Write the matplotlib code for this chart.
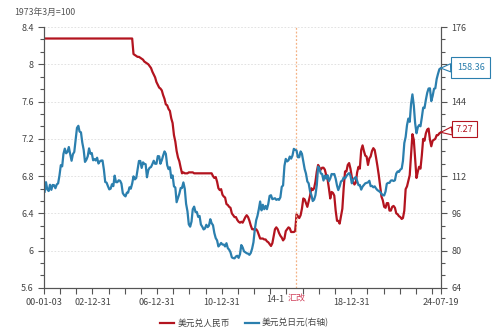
import matplotlib
matplotlib.use("Agg")
import matplotlib.pyplot as plt
from matplotlib.ticker import MultipleLocator, AutoMinorLocator, FuncFormatter
import pandas as pd

plt.rcParams['font.family'] = ['Noto Sans CJK SC', 'DejaVu Sans']

# monthly USD/CNY, Jan 2000 - Jun 2024, then the last print on 2024-07-19
usdcny = [
    8.277, 8.277, 8.277, 8.277, 8.277, 8.277, 8.277, 8.277, 8.277, 8.277, 8.277, 8.277,  # 2000
    8.277, 8.277, 8.277, 8.277, 8.277, 8.277, 8.277, 8.277, 8.277, 8.277, 8.277, 8.277,  # 2001
    8.277, 8.277, 8.277, 8.277, 8.277, 8.277, 8.277, 8.277, 8.277, 8.277, 8.277, 8.277,  # 2002
    8.277, 8.277, 8.277, 8.277, 8.277, 8.277, 8.277, 8.277, 8.277, 8.277, 8.277, 8.277,  # 2003
    8.277, 8.277, 8.277, 8.277, 8.277, 8.277, 8.277, 8.277, 8.277, 8.277, 8.277, 8.277,  # 2004
    8.277, 8.277, 8.277, 8.277, 8.277, 8.277, 8.11, 8.10, 8.09, 8.08, 8.08, 8.07,        # 2005
    8.06, 8.05, 8.03, 8.02, 8.01, 8.00, 7.98, 7.96, 7.92, 7.89, 7.86, 7.81,              # 2006
    7.78, 7.75, 7.74, 7.72, 7.67, 7.63, 7.57, 7.56, 7.52, 7.50, 7.42, 7.37,              # 2007
    7.24, 7.17, 7.07, 7.00, 6.96, 6.89, 6.83, 6.84, 6.83, 6.83, 6.83, 6.84,              # 2008
    6.84, 6.84, 6.84, 6.83, 6.83, 6.83, 6.83, 6.83, 6.83, 6.83, 6.83, 6.83,              # 2009
    6.83, 6.83, 6.83, 6.83, 6.83, 6.80, 6.78, 6.79, 6.74, 6.67, 6.65, 6.66,              # 2010
    6.60, 6.58, 6.57, 6.50, 6.49, 6.47, 6.46, 6.40, 6.38, 6.36, 6.36, 6.33,              # 2011
    6.31, 6.30, 6.31, 6.30, 6.33, 6.36, 6.38, 6.36, 6.32, 6.27, 6.23, 6.23,              # 2012
    6.22, 6.23, 6.21, 6.17, 6.13, 6.13, 6.13, 6.12, 6.12, 6.10, 6.09, 6.07,              # 2013
    6.05, 6.08, 6.15, 6.23, 6.25, 6.23, 6.19, 6.16, 6.14, 6.11, 6.13, 6.21,              # 2014
    6.23, 6.25, 6.24, 6.20, 6.20, 6.20, 6.21, 6.39, 6.37, 6.35, 6.38, 6.45,              # 2015
    6.56, 6.55, 6.51, 6.47, 6.53, 6.59, 6.67, 6.65, 6.67, 6.74, 6.85, 6.92,              # 2016
    6.89, 6.87, 6.89, 6.89, 6.87, 6.81, 6.77, 6.67, 6.56, 6.63, 6.62, 6.59,              # 2017
    6.43, 6.32, 6.32, 6.29, 6.37, 6.45, 6.67, 6.85, 6.85, 6.92, 6.94, 6.88,              # 2018
    6.79, 6.74, 6.71, 6.73, 6.84, 6.90, 6.88, 7.08, 7.13, 7.07, 7.02, 7.01,              # 2019
    6.92, 6.99, 7.01, 7.07, 7.10, 7.08, 7.00, 6.91, 6.81, 6.70, 6.58, 6.54,              # 2020
    6.47, 6.46, 6.51, 6.51, 6.43, 6.43, 6.47, 6.48, 6.46, 6.40, 6.39, 6.37,              # 2021
    6.36, 6.34, 6.35, 6.43, 6.66, 6.69, 6.75, 6.81, 7.03, 7.25, 7.19, 6.98,              # 2022
    6.78, 6.85, 6.90, 6.88, 7.02, 7.20, 7.18, 7.26, 7.30, 7.31, 7.19, 7.12,              # 2023
    7.18, 7.19, 7.20, 7.24, 7.24, 7.26,                                                  # 2024
    7.27,
]

# monthly USD/JPY, same dates
usdjpy = [
    105.3, 109.4, 106.3, 105.6, 108.3, 106.1, 108.2, 108.1, 106.8, 108.4, 108.9, 112.2,  # 2000
    116.7, 116.2, 121.5, 123.8, 121.8, 122.4, 124.5, 121.4, 118.6, 121.4, 122.4, 127.6,  # 2001
    132.7, 133.6, 131.1, 130.8, 126.4, 123.3, 118.1, 119.0, 120.5, 123.9, 121.6, 121.9,  # 2002
    118.8, 119.3, 118.7, 119.9, 117.4, 118.3, 118.7, 118.7, 114.8, 109.5, 109.2, 107.7,  # 2003
    106.3, 106.6, 108.5, 107.7, 112.2, 109.4, 109.4, 110.2, 110.0, 108.8, 104.7, 103.8,  # 2004
    103.3, 104.9, 104.9, 107.2, 106.6, 108.8, 111.9, 110.6, 111.2, 114.8, 118.5, 118.5,  # 2005
    115.5, 117.9, 117.3, 117.1, 111.5, 114.6, 115.6, 115.9, 117.2, 118.6, 117.3, 117.3,  # 2006
    120.6, 120.5, 117.3, 118.8, 120.8, 122.6, 121.6, 116.7, 115.0, 115.8, 111.2, 112.3,  # 2007
    107.6, 107.1, 100.8, 102.6, 104.4, 106.9, 106.9, 109.3, 106.6, 100.1, 96.9, 91.3,    # 2008
    90.3, 92.5, 97.8, 98.9, 96.6, 96.6, 94.5, 94.9, 91.2, 90.3, 89.1, 89.5,              # 2009
    91.1, 90.1, 90.7, 93.5, 91.8, 90.9, 87.6, 85.4, 84.4, 81.8, 82.5, 83.3,              # 2010
    82.6, 82.6, 81.8, 83.2, 81.1, 80.4, 79.3, 77.1, 76.8, 76.7, 77.5, 77.8,              # 2011
    76.9, 78.5, 82.4, 81.4, 79.7, 79.3, 78.9, 78.7, 78.2, 79.0, 80.9, 83.6,              # 2012
    89.2, 93.1, 94.9, 97.8, 101.1, 97.3, 99.7, 97.8, 99.2, 97.8, 100.1, 103.5,           # 2013
    103.8, 102.1, 102.3, 102.5, 101.8, 102.1, 101.8, 102.9, 107.4, 108.0, 116.4, 119.4,  # 2014
    118.3, 118.8, 120.4, 119.5, 120.8, 123.7, 123.3, 123.0, 120.1, 120.1, 122.6, 121.6,  # 2015
    118.2, 115.0, 113.1, 109.7, 108.9, 105.5, 103.9, 101.3, 101.9, 103.8, 108.2, 116.1,  # 2016
    114.9, 113.1, 112.9, 110.1, 112.2, 110.9, 112.4, 109.8, 111.0, 112.9, 112.8, 112.9,  # 2017
    110.9, 107.9, 106.0, 107.6, 109.7, 110.1, 111.4, 111.0, 112.0, 112.8, 113.3, 112.2,  # 2018
    108.9, 110.5, 111.1, 111.6, 110.0, 108.1, 108.2, 106.2, 107.5, 108.2, 108.9, 109.1,  # 2019
    109.3, 110.0, 107.7, 107.8, 107.2, 107.6, 106.7, 106.0, 105.6, 105.2, 104.4, 103.8,  # 2020
    103.7, 105.4, 108.7, 109.1, 109.1, 110.1, 110.2, 109.9, 110.2, 113.1, 114.0, 113.8,  # 2021
    114.8, 115.2, 118.5, 126.2, 128.8, 133.9, 136.7, 135.3, 143.1, 147.1, 142.4, 134.8,  # 2022
    130.4, 133.0, 133.9, 133.4, 137.1, 141.4, 141.2, 144.8, 147.8, 149.6, 149.7, 144.2,  # 2023
    146.4, 149.5, 149.7, 153.7, 155.9, 157.9,                                            # 2024
    158.36,
]

dates = list(pd.date_range('2000-01-01', '2024-06-01', freq='MS') + pd.Timedelta(days=14))
dates.append(pd.Timestamp('2024-07-19'))

tick_dates = [pd.Timestamp('2000-01-03')] + \
    [pd.Timestamp(f'{y}-12-31') for y in range(2000, 2024)] + [pd.Timestamp('2024-07-19')]
tick_labels = {'2000-01-03': '00-01-03', '2002-12-31': '02-12-31', '2006-12-31': '06-12-31',
               '2010-12-31': '10-12-31', '2018-12-31': '18-12-31', '2024-07-19': '24-07-19'}
reform_date = pd.Timestamp('2015-08-11')

red = '#B3141F'
blue = '#2B7FAE'
grey = '#555555'

fig = plt.figure(figsize=(5.01, 3.34), dpi=100)
ax = fig.add_axes([0.088, 0.138, 0.792, 0.781])
ax2 = ax.twinx()

l1, = ax.plot(dates, usdcny, color=red, lw=1.6, label='美元兑人民币')
l2, = ax2.plot(dates, usdjpy, color=blue, lw=1.6, label='美元兑日元(右轴)')

ax.set_xlim(pd.Timestamp('2000-01-03'), pd.Timestamp('2024-07-19'))
ax.set_ylim(5.6, 8.4)
ax2.set_ylim(64, 176)

ax.yaxis.set_major_locator(MultipleLocator(0.4))
ax.yaxis.set_minor_locator(AutoMinorLocator(3))
ax.yaxis.set_major_formatter(FuncFormatter(lambda v, p: f'{v:g}'))
ax2.yaxis.set_major_locator(MultipleLocator(16))
ax2.yaxis.set_minor_locator(AutoMinorLocator(3))
ax2.yaxis.set_major_formatter(FuncFormatter(
    lambda v, p: '' if round(v) in (160, 128) else f'{v:g}'))

ax.set_xticks(tick_dates)
ax.set_xticklabels([tick_labels.get(d.strftime('%Y-%m-%d'), '') for d in tick_dates])

for a in (ax, ax2):
    a.tick_params(axis='both', which='both', direction='out', colors=grey,
                  labelsize=6.5, labelcolor='#444444', width=0.8)
    a.tick_params(which='major', length=4)
    a.tick_params(which='minor', length=3)
    for s in a.spines.values():
        s.set_color(grey)
        s.set_linewidth(0.8)
    a.spines['top'].set_visible(False)

ax.grid(axis='y', which='major', color='#DDDDDD', ls=(0, (2, 2)), lw=0.6)
ax.axvline(reform_date, color='#F4B183', ls=(0, (1.5, 1.5)), lw=0.9)
ax.set_zorder(ax2.get_zorder() - 1)
ax.patch.set_visible(False)

# truncated 14-12-31 label followed by the reform marker
ax.annotate('14-1', xy=(pd.Timestamp('2014-12-31'), 5.6), xytext=(-2, -7),
            textcoords='offset pixels', ha='right', va='top', fontsize=6.5,
            color='#444444', annotation_clip=False)
ax.annotate('汇改', xy=(reform_date, 5.6), xytext=(0, -7), textcoords='offset pixels',
            ha='center', va='top', fontsize=6.5, color='#D0405A', annotation_clip=False)

fig.text(0.028, 0.963, '1973年3月=100', fontsize=6.3, color='#555555', va='center')

# end-value callouts
ax2.annotate(f'{usdjpy[-1]:.2f}', xy=(dates[-1], usdjpy[-1]), xytext=(16, 1),
             textcoords='offset pixels', ha='left', va='center', fontsize=6.5, color=blue,
             annotation_clip=False, zorder=10,
             bbox=dict(boxstyle='square,pad=0.65', fc='white', ec=blue, lw=0.8),
             arrowprops=dict(arrowstyle='wedge,tail_width=0.9', fc='white', ec=blue,
                             lw=0.8, shrinkA=0, shrinkB=0))
ax2.annotate(f'{usdcny[-1]:.2f}', xy=(dates[-1], (usdcny[-1] - 5.6) * 40 + 64),
             xytext=(15, 3), textcoords='offset pixels', ha='left', va='center',
             fontsize=6.5, color=red, annotation_clip=False, zorder=10,
             bbox=dict(boxstyle='square,pad=0.4', fc='white', ec=red, lw=0.8),
             arrowprops=dict(arrowstyle='wedge,tail_width=0.9', fc='white', ec=red,
                             lw=0.8, shrinkA=0, shrinkB=0))

fig.legend(handles=[l1, l2], loc='center', bbox_to_anchor=(0.488, 0.033), ncol=2,
           frameon=False, fontsize=6.3, handlelength=1.6, columnspacing=1.7,
           handletextpad=0.35, labelcolor='#444444')

fig.savefig('out.png', dpi=100)
